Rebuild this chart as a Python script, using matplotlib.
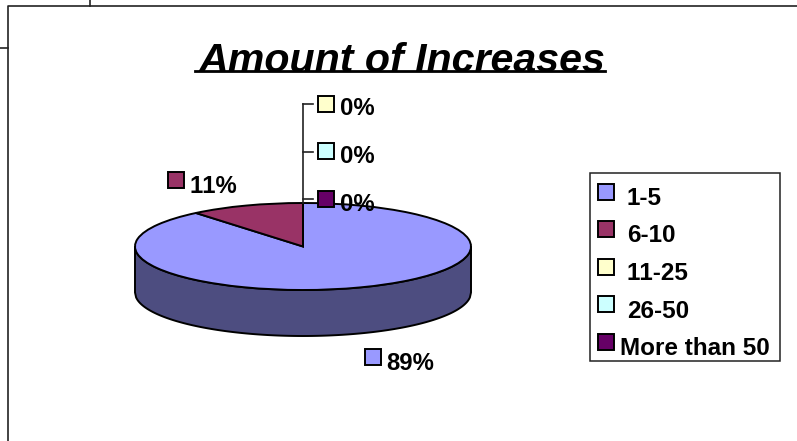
import numpy as np
import matplotlib
matplotlib.use("Agg")
import matplotlib.pyplot as plt
from matplotlib.patches import Rectangle

plt.rcParams['font.family'] = ['Liberation Sans', 'DejaVu Sans']
plt.rcParams['text.kerning_factor'] = 6  # sin kerning, como en el original

# datos de la grafica
categorias = ['1-5', '6-10', '11-25', '26-50', 'More than 50']
valores = [89, 11, 0, 0, 0]
colores = ['#9999FF', '#993366', '#FFFFCC', '#CCFFFF', '#660066']
titulo = 'Amount of Increases'

W, H = 797, 441
fig = plt.figure(figsize=(W / 100, H / 100), dpi=100, facecolor='white')

# elipse de la tapa y grosor del pastel, en pixeles
cx, cy, rx, ry = 303, 246.5, 168, 43.5
grosor = 46 / ry
margen = 0.1

# ejes del pastel: el circulo unidad queda aplastado en la elipse
izq = cx - rx * (1 + margen)
abajo = cy + ry * (1 + grosor + margen)
ancho = 2 * rx * (1 + margen)
alto = ry * (2 + grosor + 2 * margen)
ax = fig.add_axes([izq / W, 1 - abajo / H, ancho / W, alto / H])

ax.pie(valores, colors=colores, startangle=90, counterclock=False,
       wedgeprops={'edgecolor': 'black', 'linewidth': 1.4, 'zorder': 3})

# pared lateral
xs = np.linspace(-1, 1, 300)
borde = -np.sqrt(1 - xs ** 2)
ax.fill(np.r_[xs, xs[::-1]], np.r_[borde, (borde - grosor)[::-1]],
        facecolor='#4D4D80', edgecolor='black', linewidth=1.4, zorder=2)
ax.set_xlim(-1 - margen, 1 + margen)
ax.set_ylim(-1 - grosor - margen, 1 + margen)
ax.set_aspect('auto')

# capa en pixeles para textos, marco y leyenda
ov = fig.add_axes([0, 0, 1, 1], zorder=5)
ov.set_xlim(0, W)
ov.set_ylim(H, 0)
ov.axis('off')

# restos del marco
ov.plot([8, 8, W], [H, 6, 6], color='#222222', lw=1.2)
ov.plot([90, 90], [0, 6], color='#222222', lw=1.2)
ov.plot([0, 8], [48, 48], color='#222222', lw=1.2)

# titulo subrayado
ov.text(402, 72, titulo, fontsize=29.6, fontweight='bold', fontstyle='italic',
        ha='center', va='baseline', color='black')
ov.plot([195, 605], [70.5, 70.5], color='black', lw=2)

# lineas guia de las etiquetas en 0%
ov.plot([303, 303], [104, 203], color='#222222', lw=1.2)
for y in [104, 151.5, 199]:
    ov.plot([303, 313], [y, y], color='#222222', lw=1.2)


def cuadro(x, y, color):
    ov.add_patch(Rectangle((x, y), 16, 16, facecolor=color,
                           edgecolor='black', linewidth=1.4, zorder=6))


def etiqueta(x, y, texto, tam=17.2):
    ov.text(x, y, texto, fontsize=tam, fontweight='bold', ha='left',
            va='baseline', color='black', zorder=7)


# etiquetas de datos: (x cuadro, y cuadro, x texto, base texto)
sitios = [(365, 349, 386, 370), (168, 172, 190, 193), (318, 96, 340, 115),
          (318, 143, 340, 163), (318, 191, 340, 211)]
for v, c, (xc, yc, xt, yt) in zip(valores, colores, sitios):
    cuadro(xc, yc, c)
    etiqueta(xt, yt, f'{v}%')

# leyenda
ov.add_patch(Rectangle((590.5, 172.5), 190, 188, facecolor='white',
                       edgecolor='#222222', linewidth=1.1, zorder=4))
for i, (nombre, c) in enumerate(zip(categorias, colores)):
    cuadro(598, 183.5 + 37.5 * i, c)
    etiqueta(620 if len(nombre) > 5 else 627, 205 + 37.5 * i, nombre, 17.5)

fig.savefig('out.png', dpi=100, facecolor='white')
